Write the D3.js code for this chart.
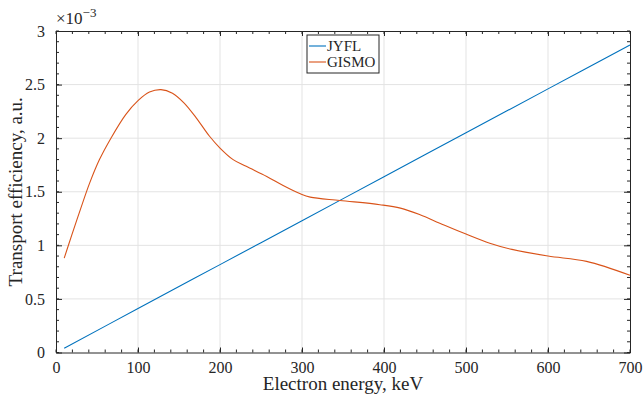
<!DOCTYPE html>
<html>
<head>
<meta charset="utf-8">
<script src="https://cdn.jsdelivr.net/npm/d3@7"></script>
<style>
  body { margin: 0; background: #fff; }
  svg { display: block; font-family: 'Liberation Serif', 'DejaVu Serif', serif; }
</style>
</head>
<body>
<svg id="chart" width="643" height="396"></svg>
<script>
// energy (keV) and transport efficiency (x 1e-3)
const jyflEnergy = [10, 100, 200, 300, 400, 500, 600, 700]
const jyflEff = [0.04, 0.41, 0.82, 1.23, 1.64, 2.05, 2.46, 2.87]

const gismoEnergy = [10, 19, 30, 41, 53, 67, 85, 100, 114, 128, 142, 156, 171, 187, 200, 216, 232, 257, 277, 298, 310, 346, 395, 420, 444, 468, 500, 529, 556, 600, 647, 700]
const gismoEff = [0.88, 1.09, 1.34, 1.58, 1.80, 2.0, 2.22, 2.35, 2.43, 2.453, 2.42, 2.33, 2.19, 2.02, 1.908, 1.80, 1.737, 1.643, 1.559, 1.481, 1.45, 1.419, 1.379, 1.347, 1.285, 1.207, 1.105, 1.02, 0.962, 0.90, 0.85, 0.72]

const xTicks = [0, 100, 200, 300, 400, 500, 600, 700]
const yTicks = [0, 0.5, 1, 1.5, 2, 2.5, 3]

const series = [
  { name: 'JYFL', color: '#0072BD', values: jyflEnergy.map((e, i) => [e, jyflEff[i]]) },
  { name: 'GISMO', color: '#D95319', values: gismoEnergy.map((e, i) => [e, gismoEff[i]]) }
]

const svg = d3.select('#chart')
const margin = { top: 31, right: 13, bottom: 43.5, left: 56 }
const width = 643, height = 396
const innerWidth = width - margin.left - margin.right
const innerHeight = height - margin.top - margin.bottom
const axisColor = '#262626'

const g = svg.append('g')
  .attr('transform', `translate(${margin.left},${margin.top})`)

// ------------------
// Scales
// ------------------
const x = d3.scaleLinear().domain([0, 700]).range([0, innerWidth])
const y = d3.scaleLinear().domain([0, 3]).range([innerHeight, 0])

// ------------------
// Grid
// ------------------
g.append('g').selectAll('line')
  .data(xTicks.slice(1, -1))
  .enter().append('line')
  .attr('x1', d => x(d)).attr('x2', d => x(d))
  .attr('y1', 0).attr('y2', innerHeight)
  .attr('stroke', '#e3e3e3').attr('stroke-width', 1)

g.append('g').selectAll('line')
  .data(yTicks.slice(1, -1))
  .enter().append('line')
  .attr('y1', d => y(d)).attr('y2', d => y(d))
  .attr('x1', 0).attr('x2', innerWidth)
  .attr('stroke', '#e3e3e3').attr('stroke-width', 1)

// ------------------
// Lines
// ------------------
const line = d3.line()
  .x(d => x(d[0]))
  .y(d => y(d[1]))
  .curve(d3.curveCatmullRom.alpha(0.5))

series.forEach(s => {
  g.append('path')
    .datum(s.values)
    .attr('fill', 'none')
    .attr('stroke', s.color)
    .attr('stroke-width', 1.1)
    .attr('d', line)
})

// ------------------
// Axes (ticks inside, boxed)
// ------------------
const xMinor = d3.range(0, 701, 20)
const yMinor = d3.range(0, 3.001, 0.1)

function styleAxis(sel) {
  sel.select('.domain').attr('stroke', axisColor).attr('stroke-width', 1)
  sel.selectAll('.tick line').attr('stroke', axisColor)
  sel.selectAll('.tick text')
    .attr('fill', axisColor)
    .attr('font-size', 16)
    .attr('font-family', 'Liberation Serif, serif')
}

const bottomAxis = g.append('g')
  .attr('transform', `translate(0,${innerHeight})`)
  .call(d3.axisBottom(x).tickValues(xTicks).tickSize(-5).tickPadding(9).tickSizeOuter(0))
styleAxis(bottomAxis)
bottomAxis.selectAll('.minor').data(xMinor).enter().append('line')
  .attr('x1', d => x(d)).attr('x2', d => x(d)).attr('y1', 0).attr('y2', -3)
  .attr('stroke', axisColor)

const topAxis = g.append('g')
  .call(d3.axisTop(x).tickValues(xTicks).tickSize(-5).tickSizeOuter(0))
styleAxis(topAxis)
topAxis.selectAll('.tick text').remove()
topAxis.selectAll('.minor').data(xMinor).enter().append('line')
  .attr('x1', d => x(d)).attr('x2', d => x(d)).attr('y1', 0).attr('y2', 3)
  .attr('stroke', axisColor)

const leftAxis = g.append('g')
  .call(d3.axisLeft(y).tickValues(yTicks).tickSize(-6).tickPadding(11).tickSizeOuter(0)
    .tickFormat(d => d))
styleAxis(leftAxis)
leftAxis.selectAll('.minor').data(yMinor).enter().append('line')
  .attr('y1', d => y(d)).attr('y2', d => y(d)).attr('x1', 0).attr('x2', 3)
  .attr('stroke', axisColor)

const rightAxis = g.append('g')
  .attr('transform', `translate(${innerWidth},0)`)
  .call(d3.axisRight(y).tickValues(yTicks).tickSize(-6).tickSizeOuter(0))
styleAxis(rightAxis)
rightAxis.selectAll('.tick text').remove()
rightAxis.selectAll('.minor').data(yMinor).enter().append('line')
  .attr('y1', d => y(d)).attr('y2', d => y(d)).attr('x1', 0).attr('x2', -3)
  .attr('stroke', axisColor)

// ------------------
// Exponent label
// ------------------
const expo = svg.append('text')
  .attr('x', margin.left)
  .attr('y', 24)
  .attr('font-size', 17)
  .attr('fill', axisColor)
expo.append('tspan').text('×10')
expo.append('tspan').attr('dy', -7).attr('font-size', 13).text('−3')

// ------------------
// Axis labels
// ------------------
svg.append('text')
  .attr('x', margin.left + innerWidth / 2)
  .attr('y', 390)
  .attr('text-anchor', 'middle')
  .attr('font-size', 19)
  .attr('fill', axisColor)
  .text('Electron energy, keV')

svg.append('text')
  .attr('transform', `translate(22,${margin.top + innerHeight / 2}) rotate(-90)`)
  .attr('text-anchor', 'middle')
  .attr('font-size', 19)
  .attr('fill', axisColor)
  .text('Transport efficiency, a.u.')

// ------------------
// Legend
// ------------------
const legend = svg.append('g')
  .attr('transform', 'translate(307,35)')

legend.append('rect')
  .attr('width', 72)
  .attr('height', 38)
  .attr('fill', '#fff')
  .attr('stroke', axisColor)
  .attr('stroke-width', 1)

series.forEach((s, i) => {
  const ly = 11 + i * 16
  legend.append('line')
    .attr('x1', 2).attr('x2', 19)
    .attr('y1', ly).attr('y2', ly)
    .attr('stroke', s.color).attr('stroke-width', 1.1)
  legend.append('text')
    .attr('x', 20)
    .attr('y', ly + 5)
    .attr('font-size', 15)
    .attr('fill', axisColor)
    .text(s.name)
})
</script>
</body>
</html>
